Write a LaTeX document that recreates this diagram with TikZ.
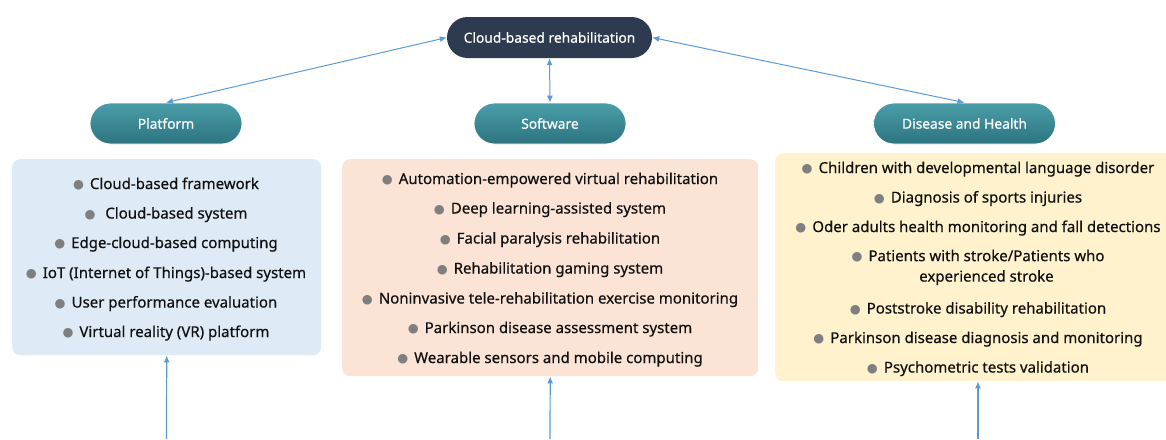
\documentclass[tikz,border=0pt]{standalone}
\usepackage{fontspec}
\setmainfont{Noto Sans}[FakeBold=0.6]
\newfontfamily\itemfont{Noto Sans}[FakeBold=0.5]
\newfontfamily\symfont{DejaVu Sans}
\usetikzlibrary{arrows.meta}
\definecolor{navy}{HTML}{2E3A4F}
\definecolor{tealtop}{HTML}{4A9EA9}
\definecolor{tealbot}{HTML}{2C7480}
\definecolor{pblue}{HTML}{DEEAF6}
\definecolor{ppeach}{HTML}{FBE4D6}
\definecolor{pyellow}{HTML}{FFF2CC}
\definecolor{arrowblue}{HTML}{5B9BD5}
\definecolor{bulgray}{HTML}{7F7F7F}
\definecolor{txt}{HTML}{111111}
\newcommand\bulmark{{\symfont\fontsize{12.5}{12}\selectfont\textcolor{bulgray}{\raisebox{0.4pt}{●}}}}
\newcommand\bul{\bulmark\hspace{6pt}}
\tikzset{
  pill/.style={rounded corners=20.5pt, minimum height=41pt, text=white,
    font=\fontsize{13.8}{15}\selectfont, inner sep=0pt},
  tealpill/.style={pill, top color=tealtop, bottom color=tealbot, draw=white, line width=0.8pt},
  panel/.style={rounded corners=8pt, anchor=north west, inner sep=0pt},
  item/.style={font=\itemfont\fontsize{15}{17}\selectfont, text=txt, inner sep=0pt, anchor=base},
  conn/.style={draw=arrowblue, line width=1pt, {Latex[length=7pt,width=6pt]}-{Latex[length=7pt,width=6pt]}},
  upconn/.style={draw=arrowblue, line width=1.2pt, -{Latex[length=7pt,width=6pt]}}
}
\begin{document}
\begin{tikzpicture}[x=1pt,y=-1pt]
\useasboundingbox (0,0) rectangle (1166,439);
\clip (0,0) rectangle (1166,439);
% top node
\node[pill, fill=navy, minimum width=205pt] (top) at (549.5,37.5) {Cloud-based rehabilitation};
% category pills
\node[tealpill, minimum width=152pt] (plat) at (166,123.5) {Platform};
\node[tealpill, minimum width=152pt] (soft) at (550,123.5) {Software};
\node[tealpill, minimum width=182pt] (dis) at (964.5,123.5) {Disease and Health};
% panels
\node[panel, fill=pblue, minimum width=309pt, minimum height=196pt] (pbox) at (12,159) {};
\node[panel, fill=ppeach, minimum width=416pt, minimum height=217pt] (sbox) at (342,159) {};
\node[panel, fill=pyellow, minimum width=406pt, minimum height=228pt] (dbox) at (775,153) {};
% connectors
\draw[conn] (plat.north) -- (top.west);
\draw[conn] (top.south) -- (soft.north);
\draw[conn] (top.east) -- (dis.north);
\coordinate (pb) at (166.5,439);
\coordinate (sb) at (550,439);
\coordinate (db) at (978,439);
\draw[upconn] (pb) -- (pbox.south);
\draw[upconn] (sb) -- (sbox.south);
\draw[upconn] (db) -- (db |- dbox.south);
% Platform items
\node[item] (p1) at (166,189) {\bul Cloud-based framework};
\node[item] (p2) at (166,218.5) {\bul\ Cloud-based system};
\node[item] (p3) at (166,248) {\bul Edge-cloud-based computing};
\node[item] (p4) at (166,278) {\bul IoT (Internet of Things)-based system};
\node[item] (p5) at (166,307.5) {\bul User performance evaluation};
\node[item] (p6) at (166,337) {\bul Virtual reality (VR) platform};
% Software items
\node[item] (s1) at (550,184) {\bul Automation-empowered virtual rehabilitation};
\node[item] (s2) at (550,213.5) {\bul Deep learning-assisted system};
\node[item] (s3) at (550,243.5) {\bul Facial paralysis rehabilitation};
\node[item] (s4) at (550,273.5) {\bul Rehabilitation gaming system};
\node[item] (s5) at (550,303.5) {\bul Noninvasive tele-rehabilitation exercise monitoring};
\node[item] (s6) at (550,333) {\bul Parkinson disease assessment system};
\node[item] (s7) at (550,363) {\bul Wearable sensors and mobile computing};
% Disease items
\node[item] (d1) at (978,173) {\bul Children with developmental language disorder};
\node[item] (d2) at (978,202.5) {\bul Diagnosis of sports injuries};
\node[item] (d3) at (978,232) {\bul Oder adults health monitoring and fall detections};
\node[item, anchor=north] (d4) at (978,249) {\begin{tabular}{@{}c@{\hspace{6pt}}c@{}}\bulmark & Patients with stroke/Patients who\\[3.5pt] & experienced stroke\end{tabular}};
\node[item] (d5) at (978,313.5) {\bul Poststroke disability rehabilitation};
\node[item] (d6) at (978,343) {\bul Parkinson disease diagnosis and monitoring};
\node[item] (d7) at (978,372.5) {\bul Psychometric tests validation};
\end{tikzpicture}
\end{document}
